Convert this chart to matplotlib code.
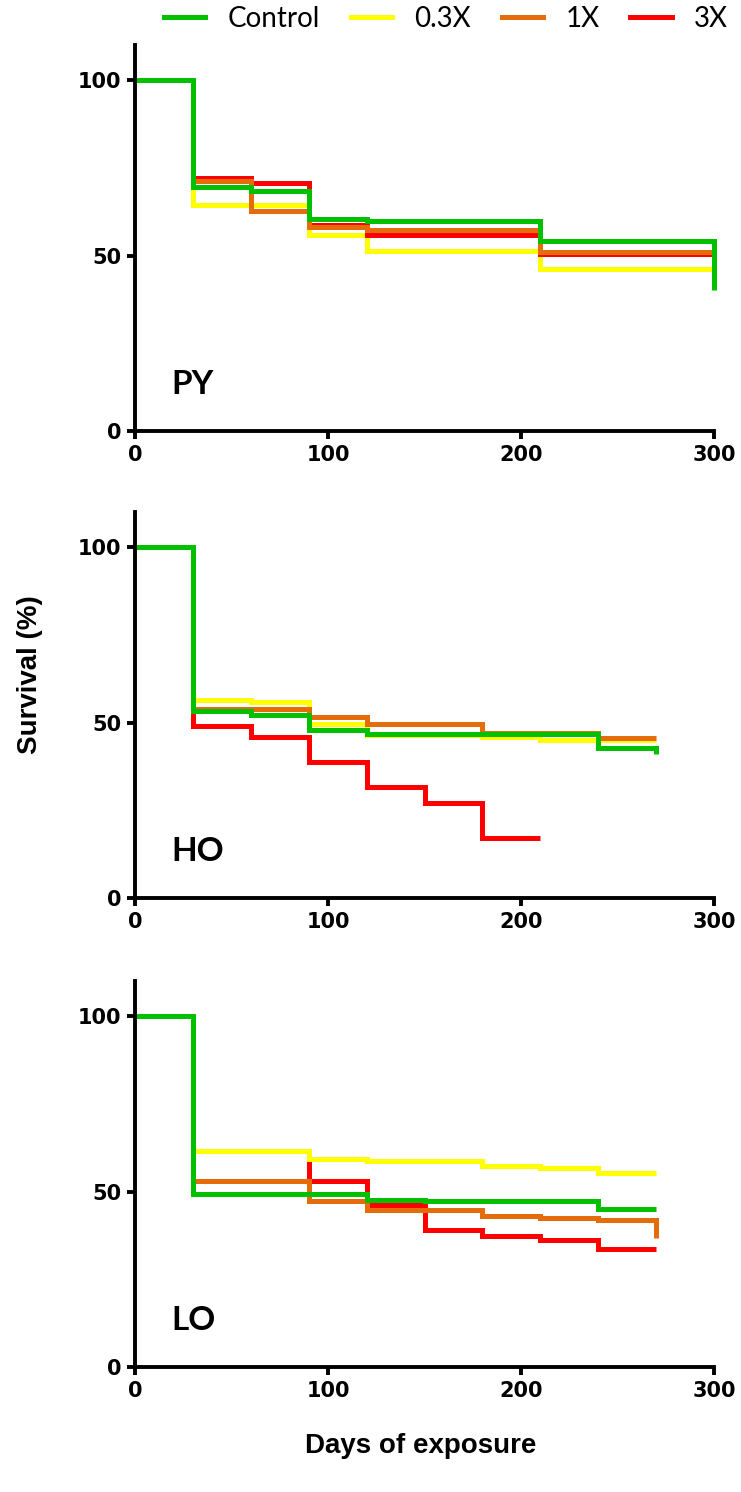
import numpy as np
import matplotlib
matplotlib.use("Agg")
import matplotlib.pyplot as plt
from matplotlib.lines import Line2D

# group names / colours
groups = ["Control", "0.3X", "1X", "3X"]
colors = {"Control": "#00C000", "0.3X": "#FFFF00", "1X": "#E46C0A", "3X": "#FF0000"}

# PY: event days and survival (%)
py_control_t = [0, 30, 60, 90, 120, 210, 300]
py_control_s = [100, 69.5, 68.5, 60.4, 59.9, 54.2, 40.2]
py_03x_t = [0, 30, 90, 120, 210, 300]
py_03x_s = [100, 64.3, 55.9, 51.4, 46.2, 46.2]
py_1x_t = [0, 30, 60, 90, 120, 210, 300]
py_1x_s = [100, 71.2, 62.8, 58.1, 57.3, 51.1, 51.1]
py_3x_t = [0, 30, 60, 90, 120, 210, 300]
py_3x_s = [100, 72.0, 70.6, 58.8, 55.9, 50.4, 50.4]

# HO
ho_control_t = [0, 30, 60, 90, 120, 240, 270]
ho_control_s = [100, 53.3, 52.1, 48.0, 46.8, 42.7, 41.0]
ho_03x_t = [0, 30, 60, 90, 120, 180, 210, 270]
ho_03x_s = [100, 56.5, 55.9, 49.5, 46.4, 45.9, 44.9, 44.9]
ho_1x_t = [0, 30, 90, 120, 180, 240, 270]
ho_1x_s = [100, 53.8, 51.6, 49.7, 47.0, 45.6, 45.6]
ho_3x_t = [0, 30, 60, 90, 120, 150, 180, 210]
ho_3x_s = [100, 48.9, 45.8, 38.7, 31.7, 27.0, 17.0, 17.0]

# LO
lo_control_t = [0, 30, 120, 150, 240, 270]
lo_control_s = [100, 49.3, 47.6, 47.2, 45.1, 45.1]
lo_03x_t = [0, 30, 90, 120, 180, 210, 240, 270]
lo_03x_s = [100, 61.5, 59.4, 58.8, 57.4, 56.6, 55.2, 55.2]
lo_1x_t = [0, 30, 90, 120, 180, 210, 240, 270]
lo_1x_s = [100, 53.0, 47.4, 44.6, 43.1, 42.5, 41.9, 36.8]
lo_3x_t = [0, 30, 90, 90, 120, 150, 180, 210, 240, 270]
lo_3x_s = [100, 53.0, 58.3, 53.0, 46.2, 38.9, 37.3, 36.3, 33.5, 33.5]

panels = [
    ("PY", {"Control": (py_control_t, py_control_s), "0.3X": (py_03x_t, py_03x_s),
            "1X": (py_1x_t, py_1x_s), "3X": (py_3x_t, py_3x_s)}),
    ("HO", {"Control": (ho_control_t, ho_control_s), "0.3X": (ho_03x_t, ho_03x_s),
            "1X": (ho_1x_t, ho_1x_s), "3X": (ho_3x_t, ho_3x_s)}),
    ("LO", {"Control": (lo_control_t, lo_control_s), "0.3X": (lo_03x_t, lo_03x_s),
            "1X": (lo_1x_t, lo_1x_s), "3X": (lo_3x_t, lo_3x_s)}),
]

# drawing order, bottom to top
draw_order = ["0.3X", "3X", "1X", "Control"]

W, H = 741, 1492
fig = plt.figure(figsize=(W / 100, H / 100), dpi=100)

left = 135 / W
width = 579 / W
ax_h = 386 / H
bottoms = [1 - 431 / H, 1 - 898 / H, 1 - 1367 / H]

for (name, series), b in zip(panels, bottoms):
    ax = fig.add_axes([left, b, width, ax_h])
    for g in draw_order:
        t, s = series[g]
        ax.step(t, s, where="post", color=colors[g], lw=3.6, clip_on=False,
                solid_joinstyle="miter", solid_capstyle="butt")
    ax.set_xlim(0, 300)
    ax.set_ylim(0, 110)
    ax.set_xticks([0, 100, 200, 300])
    ax.set_yticks([0, 50, 100])
    for sp in ["top", "right"]:
        ax.spines[sp].set_visible(False)
    for sp in ["left", "bottom"]:
        ax.spines[sp].set_linewidth(2.8)
        ax.spines[sp].set_capstyle("projecting")
    ax.tick_params(direction="out", length=6, width=2.8, pad=4)
    for lab in ax.get_xticklabels() + ax.get_yticklabels():
        lab.set_fontfamily("DejaVu Sans")
        lab.set_fontweight("bold")
        lab.set_fontsize(15)
    ax.text(19, 10.5, name, fontsize=24, fontweight="bold", family="Lato",
            ha="left", va="baseline")

fig.text(30 / W, 1 - 675 / H, "Survival (%)", rotation=90, ha="center", va="center",
         fontsize=20, fontweight="bold", family="Liberation Sans")
fig.text(421 / W, 1 - 1446 / H, "Days of exposure", ha="center", va="center",
         fontsize=20, fontweight="bold", family="Liberation Sans")

handles = [Line2D([], [], color=colors[g], lw=3.6) for g in groups]
fig.legend(handles, groups, loc="center", bbox_to_anchor=(446 / W, 1 - 19 / H),
           ncol=4, frameon=False, prop={"family": "Lato", "size": 20},
           handlelength=1.5, handletextpad=0.8, columnspacing=1.1,
           borderpad=0, borderaxespad=0)

fig.savefig("out.png", dpi=100)
